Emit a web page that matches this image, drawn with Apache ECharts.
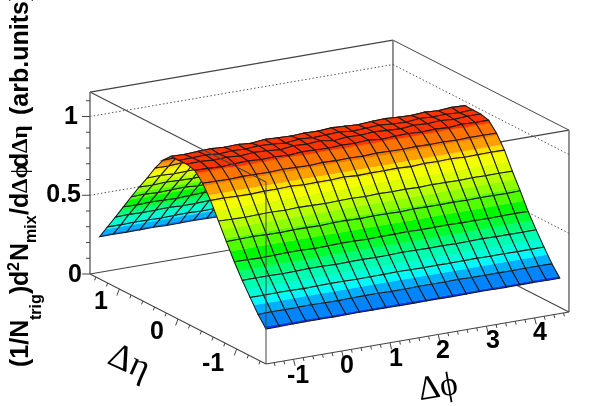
<!DOCTYPE html>
<html><head><meta charset="utf-8">
<style>html,body{margin:0;padding:0;background:#fff}#c{width:600px;height:406px}</style>
<script src="https://cdn.jsdelivr.net/npm/echarts@6/dist/echarts.min.js"></script>
</head><body><div id="c"></div>
<script>
var phiValues=[-1.571,-1.294,-1.017,-0.74,-0.463,-0.186,0.091,0.368,0.645,0.922,1.199,1.476,1.753,2.03,2.307,2.584,2.861,3.138,3.415,3.692,3.969,4.246,4.523];
var etaValues=[-1.5,-1.365,-1.23,-1.095,-0.96,-0.825,-0.69,-0.555,-0.42,-0.285,-0.15,-0.015,0.12,0.255,0.39,0.525,0.66,0.795,0.93,1.065,1.2,1.335];
var zValues=[
[.222,.223,.225,.226,.226,.225,.226,.227,.226,.226,.225,.225,.226,.226,.225,.226,.227,.226,.225,.226,.226,.225,.225],
[.289,.291,.290,.291,.292,.290,.289,.291,.292,.292,.290,.290,.292,.291,.291,.293,.291,.290,.291,.290,.291,.291,.290],
[.371,.370,.372,.371,.369,.371,.373,.372,.370,.371,.372,.374,.372,.371,.372,.371,.372,.373,.371,.372,.371,.371,.371],
[.453,.455,.454,.452,.454,.457,.456,.453,.455,.456,.454,.455,.458,.456,.455,.456,.454,.455,.457,.455,.455,.454,.455],
[.546,.545,.542,.544,.547,.546,.543,.545,.548,.547,.544,.546,.547,.549,.546,.547,.548,.546,.546,.544,.546,.547,.545],
[.648,.650,.652,.649,.647,.650,.650,.648,.652,.652,.649,.651,.651,.648,.652,.651,.650,.652,.649,.651,.650,.649,.651],
[.753,.750,.748,.751,.752,.749,.753,.751,.748,.751,.752,.749,.753,.750,.752,.749,.752,.751,.749,.752,.750,.751,.750],
[.858,.860,.856,.855,.859,.858,.861,.856,.858,.857,.862,.856,.859,.858,.860,.855,.860,.858,.861,.856,.858,.859,.858],
[.942,.940,.938,.942,.941,.939,.943,.941,.938,.943,.940,.942,.939,.944,.941,.939,.943,.940,.942,.938,.942,.941,.940],
[.998,.996,.992,.997,1.0,.994,.997,.991,.999,.996,.993,.998,.995,1.001,.992,.997,.999,.994,.998,.993,1.0,.996,.997],
[1.012,1.014,1.008,1.012,1.005,1.013,1.009,1.002,1.012,1.008,1.015,1.0,1.01,1.006,1.013,1.008,1.003,1.011,1.007,1.012,1.005,1.011,1.01],
[1.009,1.012,1.015,1.007,1.013,1.009,1.016,1.011,1.004,1.014,1.008,1.012,1.016,1.006,1.011,1.015,1.008,1.005,1.014,1.009,1.012,1.007,1.011],
[1.01,1.007,1.012,1.015,1.009,1.012,1.005,1.015,1.011,1.008,1.013,1.01,1.016,1.012,1.007,1.013,1.016,1.011,1.008,1.014,1.009,1.015,1.012],
[.96,.963,.958,.961,.965,.959,.962,.957,.964,.96,.966,.958,.961,.964,.957,.962,.96,.965,.958,.961,.964,.958,.96],
[.885,.882,.888,.884,.881,.886,.888,.883,.885,.882,.887,.884,.881,.887,.883,.886,.882,.888,.885,.883,.886,.884,.884],
[.795,.798,.793,.796,.799,.794,.792,.798,.795,.792,.799,.795,.797,.792,.798,.794,.796,.799,.793,.796,.798,.793,.795],
[.713,.711,.715,.712,.709,.714,.716,.711,.713,.71,.715,.712,.709,.714,.711,.716,.71,.713,.715,.711,.713,.715,.712],
[.625,.627,.623,.626,.628,.622,.625,.627,.624,.621,.626,.628,.623,.626,.622,.627,.625,.622,.627,.624,.626,.623,.625],
[.535,.533,.537,.534,.532,.536,.538,.534,.536,.532,.537,.535,.531,.536,.533,.538,.535,.533,.536,.534,.537,.532,.534],
[.445,.447,.444,.446,.448,.443,.445,.447,.444,.442,.446,.448,.443,.445,.442,.447,.444,.446,.444,.446,.443,.445,.446],
[.357,.356,.358,.357,.355,.358,.359,.356,.357,.354,.358,.357,.355,.358,.356,.359,.357,.355,.358,.356,.357,.358,.356],
[.268,.269,.267,.268,.27,.267,.268,.269,.268,.266,.269,.27,.267,.268,.267,.269,.268,.266,.269,.268,.268,.267,.268]
];
var bandLevels=[-1,.235,.29,.335,.365,.41,.46,.50,.54,.60,.665,.71,.755,.80,.85,.885,.93,.985,9];
var bandColors=['#0040ff','#0085ff','#00b0ff','#00f8ff','#00ffd8','#00ffb0','#00ff78','#00ff30','#00f800','#50ff00','#90ff00','#b8ff00','#dcff00','#f4ff00','#ffe000','#ffa000','#ff7400','#ff3400'];
var zTicks=[0,.1,.2,.3,.4,.5,.6,.7,.8,.9,1,1.1];
var zGrid=[.5,1];
var etaTicks=[-1.4,-1.2,-1,-.8,-.6,-.4,-.2,0,.2,.4,.6,.8,1,1.2,1.4];
var phiTicks=[-1.4,-1.2,-1,-.8,-.6,-.4,-.2,0,.2,.4,.6,.8,1,1.2,1.4,1.6,1.8,2,2.2,2.4,2.6,2.8,3,3.2,3.4,3.6,3.8,4,4.2,4.4,4.6];
var phiRange=[-1.5708,4.7124], etaRange=[-1.5,1.5], zRange=[0,1.155];

function project(phi,eta,z){
  var a=phi-phiRange[0], b=eta-etaRange[0];
  return [266+a*48.22-b*58.67, 364-a*8.27-b*30-z*157.5];
}
function clipBand(poly,lo,hi){
  function clip(pts,keep,level){
    var out=[];
    for(var k=0;k<pts.length;k++){
      var p=pts[k],q=pts[(k+1)%pts.length],ip=keep(p[2]),iq=keep(q[2]);
      if(ip)out.push(p);
      if(ip!==iq){var t=(level-p[2])/(q[2]-p[2]);out.push([p[0]+t*(q[0]-p[0]),p[1]+t*(q[1]-p[1]),level]);}
    }
    return out;
  }
  var r=clip(poly,function(z){return z>=lo;},lo);
  if(r.length)r=clip(r,function(z){return z<=hi;},hi);
  return r;
}
var cells=[];
for(var i=etaValues.length-2;i>=0;i--)for(var j=phiValues.length-2;j>=0;j--)cells.push([i,j]);

function lineEl(api,a,b,style){
  var p=api.coord(a),q=api.coord(b);
  return {type:'line',shape:{x1:p[0],y1:p[1],x2:q[0],y2:q[1]},style:style,silent:true};
}
var P0=phiRange[0],P1=phiRange[1],E0=etaRange[0],E1=etaRange[1],Z1=zRange[1];
var boxStyle={stroke:'#444',lineWidth:1.1};
var wallStyle={stroke:'#777',lineWidth:1.6};
var dotStyle={stroke:'#555',lineWidth:1,lineDash:[1.5,2.2]};

var backSegments=[
 {a:[P0,E1,Z1],b:[P1,E1,Z1],s:boxStyle},{a:[P1,E1,Z1],b:[P1,E0,Z1],s:boxStyle},
 {a:[P0,E0,Z1],b:[P1,E0,Z1],s:boxStyle},{a:[P1,E1,0],b:[P1,E1,Z1],s:wallStyle},
 {a:[P1,E0,0],b:[P1,E0,Z1],s:wallStyle},{a:[P0,E1,0],b:[P1,E1,0],s:boxStyle},{a:[P1,E1,0],b:[P1,E0,0],s:boxStyle}
];
zGrid.forEach(function(z){
  backSegments.push({a:[P0,E1,z],b:[P1,E1,z],s:dotStyle});
  backSegments.push({a:[P1,E1,z],b:[P1,E0,z],s:dotStyle});
});
var frontSegments=[
 {a:[P0,E1,Z1],b:[P0,E0,Z1],s:boxStyle},{a:[P0,E0,0],b:[P0,E0,Z1],s:{stroke:'#444',lineWidth:1}},
 {a:[P0,E1,0],b:[P0,E1,Z1],s:wallStyle},{a:[P0,E1,0],b:[P0,E0,0],s:boxStyle},{a:[P0,E0,0],b:[P1,E0,0],s:boxStyle}
];
function segSeries(list){
  return {type:'custom',coordinateSystem:'cartesian2d',clip:false,silent:true,animation:false,
    data:list.map(function(_,k){return [k];}),
    renderItem:function(params,api){
      var s=list[api.value(0)];
      return lineEl(api,project(s.a[0],s.a[1],s.a[2]),project(s.b[0],s.b[1],s.b[2]),s.s);
    }};
}
var tickItems=[];
zTicks.forEach(function(z,k){var big=(k%5===0);tickItems.push({p:[P0,E1,z],d:big?[-8,0]:[-4,0]});});
etaTicks.forEach(function(e){var big=(e===-1||e===0||e===1);tickItems.push({p:[P0,e,0],d:big?[-2.4,6.5]:[-1.2,3.4]});});
phiTicks.forEach(function(f){var big=(Math.abs(f-Math.round(f))<1e-6);tickItems.push({p:[f,E0,0],d:big?[1.6,6.5]:[.8,3.4]});});

var surfaceSeries={type:'custom',coordinateSystem:'cartesian2d',clip:false,silent:true,animation:false,z:3,
  data:cells,
  renderItem:function(params,api){
    var i=api.value(0),j=api.value(1),kids=[];
    var v=[[j,i],[j+1,i],[j+1,i+1],[j,i+1]].map(function(c){
      var g=project(phiValues[c[0]],etaValues[c[1]],zValues[c[1]][c[0]]);
      return [g[0],g[1],zValues[c[1]][c[0]]];
    });
    for(var b=0;b<bandColors.length;b++){
      var r=clipBand(v,bandLevels[b],bandLevels[b+1]);
      if(r.length>2)kids.push({type:'polygon',shape:{points:r.map(function(q){return api.coord([q[0],q[1]]);})},
        style:{fill:bandColors[b],stroke:bandColors[b],lineWidth:.4}});
    }
    kids.push({type:'polygon',shape:{points:v.map(function(q){return api.coord([q[0],q[1]]);})},
      style:{fill:'none',stroke:'#1a1a1a',lineWidth:1.05}});
    return {type:'group',children:kids};
  }};
var tickSeries={type:'custom',coordinateSystem:'cartesian2d',clip:false,silent:true,animation:false,z:4,
  data:tickItems.map(function(_,k){return [k];}),
  renderItem:function(params,api){
    var t=tickItems[api.value(0)],g=project(t.p[0],t.p[1],t.p[2]);
    return lineEl(api,g,[g[0]+t.d[0],g[1]+t.d[1]],{stroke:'#444',lineWidth:1});
  }};
var back=segSeries(backSegments);back.z=2;
var front=segSeries(frontSegments);front.z=4;

var SANS='"Liberation Sans",Arial,sans-serif', SERIF='"Liberation Serif","DejaVu Serif",serif';
function label(t,x,y,size,opts){
  opts=opts||{};
  return {type:'text',x:x,y:y,rotation:opts.rot||0,silent:true,z:10,
    style:{text:t,x:0,y:0,fill:'#000',font:(opts.weight||'bold')+' '+size+'px '+(opts.fam||SANS),
      align:opts.align||'center',verticalAlign:opts.va||'middle'}};
}
var V=Math.PI/2;
function vtxt(t,yStart,xBase,size,fam,weight){
  return label(t,xBase+size*.21,yStart,size,{rot:V,align:'left',va:'bottom',fam:fam,weight:weight});
}
var graphics=[
 label('1',78,117,25,{align:'right'}),label('0.5',81,195,25,{align:'right'}),label('0',82,275,25,{align:'right'}),
 label('1',101,302,25),label('0',157,332,25),label('-1',213,364,25),
 label('-1',298,376,25),label('0',347,366,25),label('1',396,359,25),label('2',443,351,25),label('3',493,341,25),label('4',540,333,25),
 label('\u0394\u03b7',129,363,36,{fam:SERIF,weight:'normal',rot:-.42}),
 label('\u0394\u03d5',438,388,34,{fam:SERIF,weight:'normal',rot:.17}),
 vtxt('(1/N',367,28,25),vtxt('trig',320,41,16),vtxt(')',294,28,25),vtxt('d',286,28,25),vtxt('2',271,19,16),
 vtxt('N',261,28,25),vtxt('mix',243,36,16),vtxt('/',215,28,25),
 vtxt('d',208,28,25),vtxt('\u0394\u03d5',193,28,23,SERIF,'bold'),vtxt('d',168,28,25),vtxt('\u0394\u03b7',153,28,23,SERIF,'bold'),
 vtxt('(arb.units)',115,28,25)
];
var chart=echarts.init(document.getElementById('c'),null,{renderer:'canvas'});
chart.setOption({
  backgroundColor:'#fff',animation:false,
  grid:{left:0,right:0,top:0,bottom:0},
  xAxis:{type:'value',min:0,max:600,show:false},
  yAxis:{type:'value',min:0,max:406,inverse:true,show:false},
  series:[back,surfaceSeries,front,tickSeries],
  graphic:graphics
});
</script></body></html>
